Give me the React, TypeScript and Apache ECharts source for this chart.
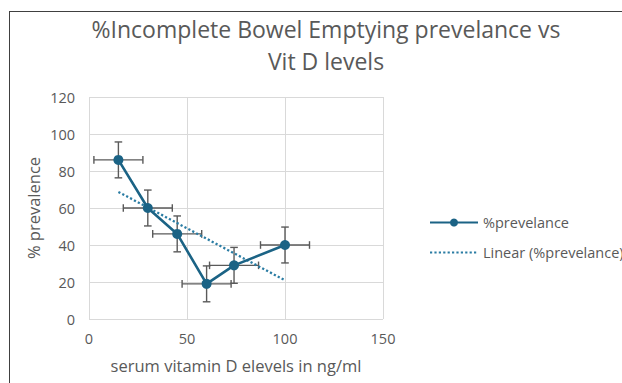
import React, { useEffect, useRef } from "react";
import * as echarts from "echarts";

const titleText = "%Incomplete Bowel Emptying prevelance vs\nVit D levels";
const xAxisTitle = "serum vitamin D elevels in ng/ml";
const yAxisTitle = "% prevalence";
const seriesName = "%prevelance";
const trendName = "Linear (%prevelance)";

const vitD = [15, 30, 45, 60, 74, 100];
const prevalence = [86, 60, 46, 19, 29, 40];
const xError = [12.5, 12.5, 12.5, 12.5, 12.5, 12.5];
const yError = [9.7, 9.7, 9.7, 9.7, 9.7, 9.7];

const trendX = [15, 100];
const trendY = [68.7, 20.9];

const LINE_COLOR = "#1b6385";
const TREND_COLOR = "#2a7ca3";
const TEXT = "#595959";
const GRID = "#d9d9d9";
const FONT = "Open Sans, Noto Sans, sans-serif";

export default function App() {
  const ref = useRef<HTMLDivElement>(null);
  useEffect(() => {
    const chart = echarts.init(ref.current!, null, { renderer: "svg" });
    const errData = vitD.map((x, i) => [x, prevalence[i], xError[i], yError[i]]);
    chart.setOption({
      animation: false,
      backgroundColor: "#ffffff",
      textStyle: { fontFamily: FONT },
      title: {
        text: titleText,
        left: 321,
        textAlign: "center",
        top: 8,
        textStyle: {
          color: TEXT,
          fontSize: 23,
          fontWeight: "normal",
          fontFamily: FONT,
          lineHeight: 32,
        },
      },
      grid: { left: 89, top: 97, width: 294, height: 222, containLabel: false },
      xAxis: {
        type: "value",
        min: 0,
        max: 150,
        interval: 50,
        name: xAxisTitle,
        nameLocation: "middle",
        nameGap: 38,
        nameTextStyle: { color: TEXT, fontSize: 16.5, fontFamily: FONT },
        axisLine: { show: false },
        axisTick: { show: false },
        axisLabel: { color: TEXT, fontSize: 14.5, margin: 12, fontFamily: FONT },
        splitLine: { show: true, lineStyle: { color: GRID, width: 1 } },
      },
      yAxis: {
        type: "value",
        min: 0,
        max: 120,
        interval: 20,
        name: yAxisTitle,
        nameLocation: "middle",
        nameGap: 47,
        nameTextStyle: { color: TEXT, fontSize: 16.5, fontFamily: FONT },
        axisLine: { show: false },
        axisTick: { show: false },
        axisLabel: { color: TEXT, fontSize: 14.5, margin: 14, fontFamily: FONT },
        splitLine: { show: true, lineStyle: { color: GRID, width: 1 } },
      },
      legend: {
        orient: "vertical",
        left: 424,
        top: 210,
        itemWidth: 48,
        itemHeight: 10,
        itemGap: 15,
        data: [
          { name: seriesName },
          { name: trendName, itemStyle: { opacity: 0 } },
        ],
        textStyle: { color: TEXT, fontSize: 14.5, fontFamily: FONT },
      },
      series: [
        {
          type: "custom",
          name: "errors",
          z: 1,
          data: errData,
          renderItem: (params: any, api: any) => {
            const x = api.value(0);
            const y = api.value(1);
            const ex = api.value(2);
            const ey = api.value(3);
            const l = api.coord([x - ex, y]);
            const r = api.coord([x + ex, y]);
            const t = api.coord([x, y + ey]);
            const b = api.coord([x, y - ey]);
            const cap = 3.8;
            const st = { stroke: "#5a5a5a", lineWidth: 1.4 };
            const ln = (x1: number, y1: number, x2: number, y2: number) => ({
              type: "line",
              shape: { x1, y1, x2, y2 },
              style: st,
            });
            return {
              type: "group",
              children: [
                ln(l[0], l[1], r[0], r[1]),
                ln(l[0], l[1] - cap, l[0], l[1] + cap),
                ln(r[0], r[1] - cap, r[0], r[1] + cap),
                ln(t[0], t[1], b[0], b[1]),
                ln(t[0] - cap, t[1], t[0] + cap, t[1]),
                ln(b[0] - cap, b[1], b[0] + cap, b[1]),
              ],
            };
          },
        },
        {
          type: "line",
          name: trendName,
          z: 2,
          data: trendX.map((x, i) => [x, trendY[i]]),
          symbol: "none",
          lineStyle: { color: TREND_COLOR, width: 2.3, type: [2.2, 2.2], cap: "butt" },
          itemStyle: { color: TREND_COLOR },
        },
        {
          type: "line",
          name: seriesName,
          z: 3,
          data: vitD.map((x, i) => [x, prevalence[i]]),
          symbol: "circle",
          symbolSize: 10,
          lineStyle: { color: LINE_COLOR, width: 2.6 },
          itemStyle: { color: LINE_COLOR },
        },
      ],
      graphic: [
        { type: "line", shape: { x1: 9.5, y1: 11, x2: 9.5, y2: 383 }, style: { stroke: "#404040", lineWidth: 1 } },
        { type: "line", shape: { x1: 9, y1: 11.5, x2: 622, y2: 11.5 }, style: { stroke: "#404040", lineWidth: 1 } },
      ],
    });
    return () => chart.dispose();
  }, []);
  return (
    <div
      ref={ref}
      style={{ position: "absolute", left: 0, top: 0, width: 622, height: 383 }}
    />
  );
}
